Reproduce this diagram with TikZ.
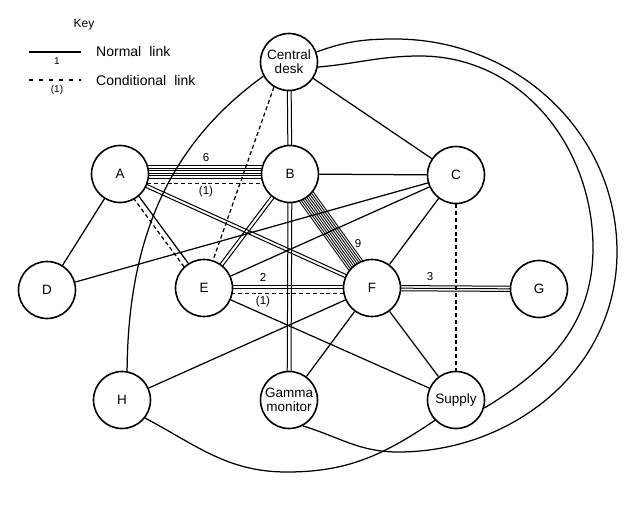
\documentclass[tikz,border=0pt]{standalone}
\usepackage{fontspec}
\setmainfont{Liberation Sans}
\usetikzlibrary{calc,backgrounds}
\newcommand\mlink[4][]{\foreach \off in {#4}{\draw[#1] ($(#2)!\off pt!90:(#3)$) -- ($(#3)!\off pt!-90:(#2)$);}}
\tikzset{
  stn/.style={circle, draw, line width=1.6pt, fill=white, minimum size=57pt, inner sep=0pt,
              font=\fontsize{13.5}{14}\selectfont, align=center},
  lnk/.style={line width=1.25pt},
  dlnk/.style={line width=1.25pt, dash pattern=on 4pt off 2.8pt},
  band/.style={line width=0.85pt},
  dbl/.style={line width=1pt},
  lab/.style={font=\fontsize{11.5}{12}\selectfont, inner sep=0pt},
}
\begin{document}
\begin{tikzpicture}[x=1pt,y=-1pt]
\useasboundingbox (0,0) rectangle (636,505);
% stations
\node[stn] (desk) at (289,62) {Central\\desk};
\node[stn] (A) at (120,174) {A};
\node[stn] (B) at (290,174) {B};
\node[stn] (C) at (456,175) {C};
\node[stn] (D) at (47,290) {D};
\node[stn] (E) at (204,288) {E};
\node[stn] (F) at (372,288) {F};
\node[stn] (G) at (539,289) {G};
\node[stn] (H) at (122,400) {H};
\node[stn] (gm) at (289,400) {Gamma\\monitor};
\node[stn] (sup) at (456,400) {Supply};
% links
\begin{scope}[on background layer]
  \mlink[dbl]{desk}{B}{-1.9,1.9}
  \draw[lnk] (desk) -- (C);
  \draw[dlnk] (desk.-121) -- (E.72);
  \draw[lnk] (desk.209) .. controls (175,140) and (128,230) .. (H.80);
  \draw[lnk] (desk.20) to[out=20,in=180] (395,39) to[out=0,in=90] (617,252)
             to[out=-90,in=0] (398,452) to[out=180,in=-17] (gm.-62);
  \draw[lnk] (desk.-10) to[out=5,in=180] (420,56) to[out=0,in=90] (593,248)
             to[out=-90,in=31] (sup.-16);
  \draw[lnk] (H.-38) to[out=-28,in=180] (287,472) to[out=0,in=-146] (sup.-136);
  \mlink[band]{A}{B}{8.5,5.9,3.3,0.7,-1.9,-4.5}
  \mlink[dlnk]{A}{B}{-9.5}
  \draw[lnk] (A) -- (D);
  \mlink[lnk]{A}{E}{2}
  \mlink[dlnk]{A}{E}{-3.5}
  \mlink[dbl]{A}{F}{-1.6,1.6}
  \draw[lnk] (B) -- (C);
  \mlink[dbl]{B}{E}{-1.7,1.7}
  \mlink[dbl]{B}{gm}{-1.9,1.9}
  \mlink[band]{B}{F}{-8.4,-6.3,-4.2,-2.1,0,2.1,4.2,6.3,8.4}
  \draw[lnk] (C) -- (D);
  \draw[lnk] (C) -- (E);
  \draw[lnk] (C) -- (F);
  \draw[dlnk] (C) -- (sup);
  \mlink[dbl]{E}{F}{3,0}
  \mlink[dlnk]{E}{F}{-5.5}
  \draw[lnk] (E) -- (sup);
  \mlink[dbl]{F}{G}{-2.6,0,2.6}
  \draw[lnk] (F) -- (H);
  \draw[lnk] (F) -- (gm);
  \draw[lnk] (F) -- (sup);
\end{scope}
% link labels
\node[lab] (l6) at (206,158) {6};
\node[lab] (l6c) at (206,192) {(1)};
\node[lab] (l9) at (358,244) {9};
\node[lab] (l2) at (263,277) {2};
\node[lab] (l2c) at (263,302) {(1)};
\node[lab] (l3) at (430,277) {3};
% key
\node[font=\fontsize{12}{14}\selectfont, inner sep=0pt] (key) at (84,25) {Key};
\coordinate (k1a) at (29,52); \coordinate (k1b) at (81,52);
\draw[lnk] (k1a) -- (k1b);
\node[lab, font=\fontsize{10}{12}\selectfont] (k1) at (57,61) {1};
\node[anchor=west, inner sep=0pt, font=\fontsize{14}{16}\selectfont] (kn) at (96,51) {Normal\hspace{0.3em} link};
\coordinate (k2a) at (29,80); \coordinate (k2b) at (81,80);
\draw[line width=1.25pt, dash pattern=on 4pt off 6pt] (k2a) -- (k2b);
\node[lab, font=\fontsize{10}{12}\selectfont] (k2) at (57,90) {(1)};
\node[anchor=west, inner sep=0pt, font=\fontsize{14}{16}\selectfont] (kc) at (96,80) {Conditional\hspace{0.3em} link};
\end{tikzpicture}
\end{document}
